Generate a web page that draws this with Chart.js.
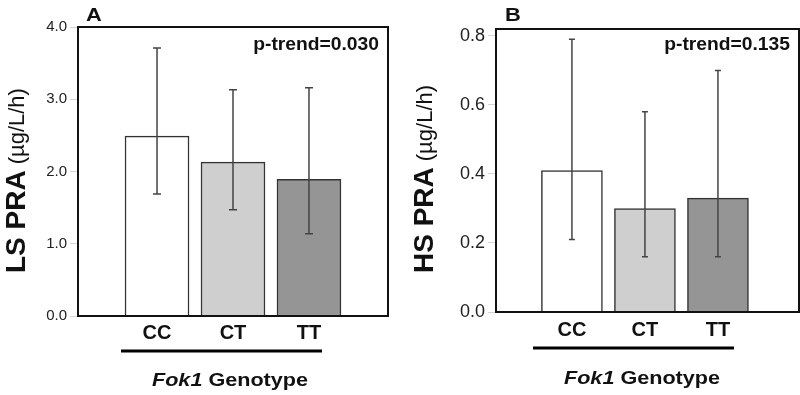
<!DOCTYPE html>
<html>
<head>
<meta charset="utf-8">
<script src="https://cdn.jsdelivr.net/npm/chart.js@4.4.1/dist/chart.umd.min.js"></script>
<style>
  body { margin: 0; background: #fff; }
  .panel { position: absolute; top: 0; width: 400px; height: 395px; }
</style>
</head>
<body>
<div class="panel" style="left:0"><canvas id="chartA" width="400" height="395"></canvas></div>
<div class="panel" style="left:400px"><canvas id="chartB" width="400" height="395"></canvas></div>
<script>
const genotypes = ['CC', 'CT', 'TT'];
const barColors = ['#ffffff', '#cfcfcf', '#959595'];

// low salt PRA (ug/L/h)
const lsMeans = [2.49, 2.13, 1.89];
const lsLow = [1.69, 1.47, 1.14];
const lsHigh = [3.71, 3.13, 3.16];
const lsTicks = [0, 1, 2, 3, 4];

// high salt PRA (ug/L/h)
const hsMeans = [0.41, 0.30, 0.33];
const hsLow = [0.21, 0.16, 0.16];
const hsHigh = [0.79, 0.58, 0.70];
const hsTicks = [0, 0.2, 0.4, 0.6, 0.8];

const FONT = "'Liberation Sans', Arial, sans-serif";
Chart.defaults.font.family = FONT;
Chart.defaults.color = '#222';

// horizontally stretched text, like the scanned figure
function stretchText(ctx, text, x, y, font, sx, align) {
  ctx.save();
  ctx.font = font;
  const w = ctx.measureText(text).width * sx;
  let left = x;
  if (align === 'center') left = x - w / 2;
  if (align === 'right') left = x - w;
  ctx.translate(left, y);
  ctx.scale(sx, 1);
  ctx.textAlign = 'left';
  ctx.textBaseline = 'alphabetic';
  ctx.fillText(text, 0, 0);
  ctx.restore();
  return w;
}

function makePanel(canvasId, cfg) {
  const errorBars = {
    id: 'errorBars',
    afterDatasetsDraw(chart) {
      const ctx = chart.ctx;
      const xs = chart.scales.x, ys = chart.scales.y;
      ctx.save();
      ctx.strokeStyle = '#444';
      ctx.lineWidth = 1.5;
      cfg.means.forEach((m, i) => {
        const px = xs.getPixelForValue(i + 1);
        const yl = ys.getPixelForValue(cfg.low[i]);
        const yh = ys.getPixelForValue(cfg.high[i]);
        ctx.beginPath();
        ctx.moveTo(px, yl); ctx.lineTo(px, yh);
        ctx.moveTo(px - cfg.cap, yl); ctx.lineTo(px + cfg.cap, yl);
        ctx.moveTo(px - cfg.cap, yh); ctx.lineTo(px + cfg.cap, yh);
        ctx.stroke();
      });
      ctx.restore();
    }
  };

  const decorations = {
    id: 'decorations',
    afterDraw(chart) {
      const ctx = chart.ctx;
      const a = chart.chartArea;
      ctx.save();
      // plot box
      ctx.strokeStyle = '#111';
      ctx.lineWidth = 2;
      ctx.strokeRect(a.left, a.top, a.right - a.left, a.bottom - a.top);

      ctx.fillStyle = '#111';
      // panel letter
      stretchText(ctx, cfg.letter, cfg.letterX, 21, `bold 19px ${FONT}`, 1.15, 'left');
      // p-trend
      stretchText(ctx, cfg.ptrend, a.right - 9, 50, `bold 18px ${FONT}`, 1.07, 'right');

      // y axis title, rotated
      ctx.save();
      ctx.translate(cfg.titleX, 273);
      ctx.rotate(-Math.PI / 2);
      ctx.textAlign = 'left';
      ctx.textBaseline = 'alphabetic';
      ctx.font = `bold 28px ${FONT}`;
      ctx.fillText(cfg.title, 0, 0);
      const tw = ctx.measureText(cfg.title).width;
      ctx.font = `22px ${FONT}`;
      ctx.fillText('(\u00b5g/L/h)', tw + 6, -1);
      ctx.restore();

      // underline under genotypes
      ctx.strokeStyle = '#000';
      ctx.lineWidth = 3;
      ctx.beginPath();
      ctx.moveTo(cfg.lineX[0], cfg.lineY);
      ctx.lineTo(cfg.lineX[1], cfg.lineY);
      ctx.stroke();

      // Fok1 Genotype
      const sx = 1.2;
      ctx.font = `italic bold 18px ${FONT}`;
      const w1 = ctx.measureText('Fok1').width * sx;
      ctx.font = `bold 18px ${FONT}`;
      const w2 = ctx.measureText(' Genotype').width * sx;
      const start = cfg.genoX - (w1 + w2) / 2;
      stretchText(ctx, 'Fok1', start, cfg.genoY, `italic bold 18px ${FONT}`, sx, 'left');
      stretchText(ctx, ' Genotype', start + w1, cfg.genoY, `bold 18px ${FONT}`, sx, 'left');
      ctx.restore();
    }
  };

  return new Chart(document.getElementById(canvasId).getContext('2d'), {
    type: 'bar',
    data: {
      datasets: [{
        data: cfg.means.map((m, i) => ({ x: i + 1, y: m })),
        backgroundColor: barColors,
        borderColor: '#333',
        borderWidth: 1.5,
        barThickness: cfg.barWidth
      }]
    },
    options: {
      responsive: false,
      animation: false,
      layout: { padding: cfg.padding },
      plugins: { legend: { display: false }, tooltip: { enabled: false } },
      scales: {
        x: {
          type: 'linear',
          offset: false,
          min: cfg.xMin,
          max: cfg.xMax,
          afterBuildTicks: s => { s.ticks = genotypes.map((g, i) => ({ value: i + 1 })); },
          afterFit: s => { s.height = cfg.xHeight; },
          grid: { display: false, offset: false },
          border: { display: false },
          ticks: {
            autoSkip: false,
            maxRotation: 0,
            padding: cfg.xPad,
            color: '#111',
            font: { size: 20, weight: 'bold' },
            callback: v => genotypes[v - 1] || ''
          }
        },
        y: {
          min: 0,
          max: cfg.yMax,
          afterBuildTicks: s => { s.ticks = cfg.ticks.map(v => ({ value: v })); },
          afterFit: s => { s.width = cfg.yWidth; },
          grid: { drawOnChartArea: false, drawTicks: true, tickLength: 8, color: '#d4d4d4' },
          border: { display: false },
          ticks: {
            padding: 3,
            color: '#222',
            font: { size: cfg.tickSize },
            callback: v => v.toFixed(1)
          }
        }
      }
    },
    plugins: [errorBars, decorations]
  });
}

makePanel('chartA', {
  means: lsMeans, low: lsLow, high: lsHigh, ticks: lsTicks, yMax: 4,
  title: 'LS PRA', letter: 'A', ptrend: 'p-trend=0.030',
  padding: { left: 0, top: 27, right: 12, bottom: 0 },
  yWidth: 78, xHeight: 79, xMin: -0.04, xMax: 4.04, barWidth: 64, cap: 4,
  tickSize: 15, xPad: -3, letterX: 86, titleX: 25,
  lineX: [121, 322], lineY: 351, genoX: 230, genoY: 386
});

makePanel('chartB', {
  means: hsMeans, low: hsLow, high: hsHigh, ticks: hsTicks, yMax: 0.82,
  title: 'HS PRA', letter: 'B', ptrend: 'p-trend=0.135',
  padding: { left: 0, top: 29, right: 1, bottom: 0 },
  yWidth: 96, xHeight: 83, xMin: -0.04, xMax: 4.11, barWidth: 61, cap: 3,
  tickSize: 18, xPad: -2, letterX: 105, titleX: 33,
  lineX: [133, 334], lineY: 348, genoX: 242, genoY: 384
});
</script>
</body>
</html>
